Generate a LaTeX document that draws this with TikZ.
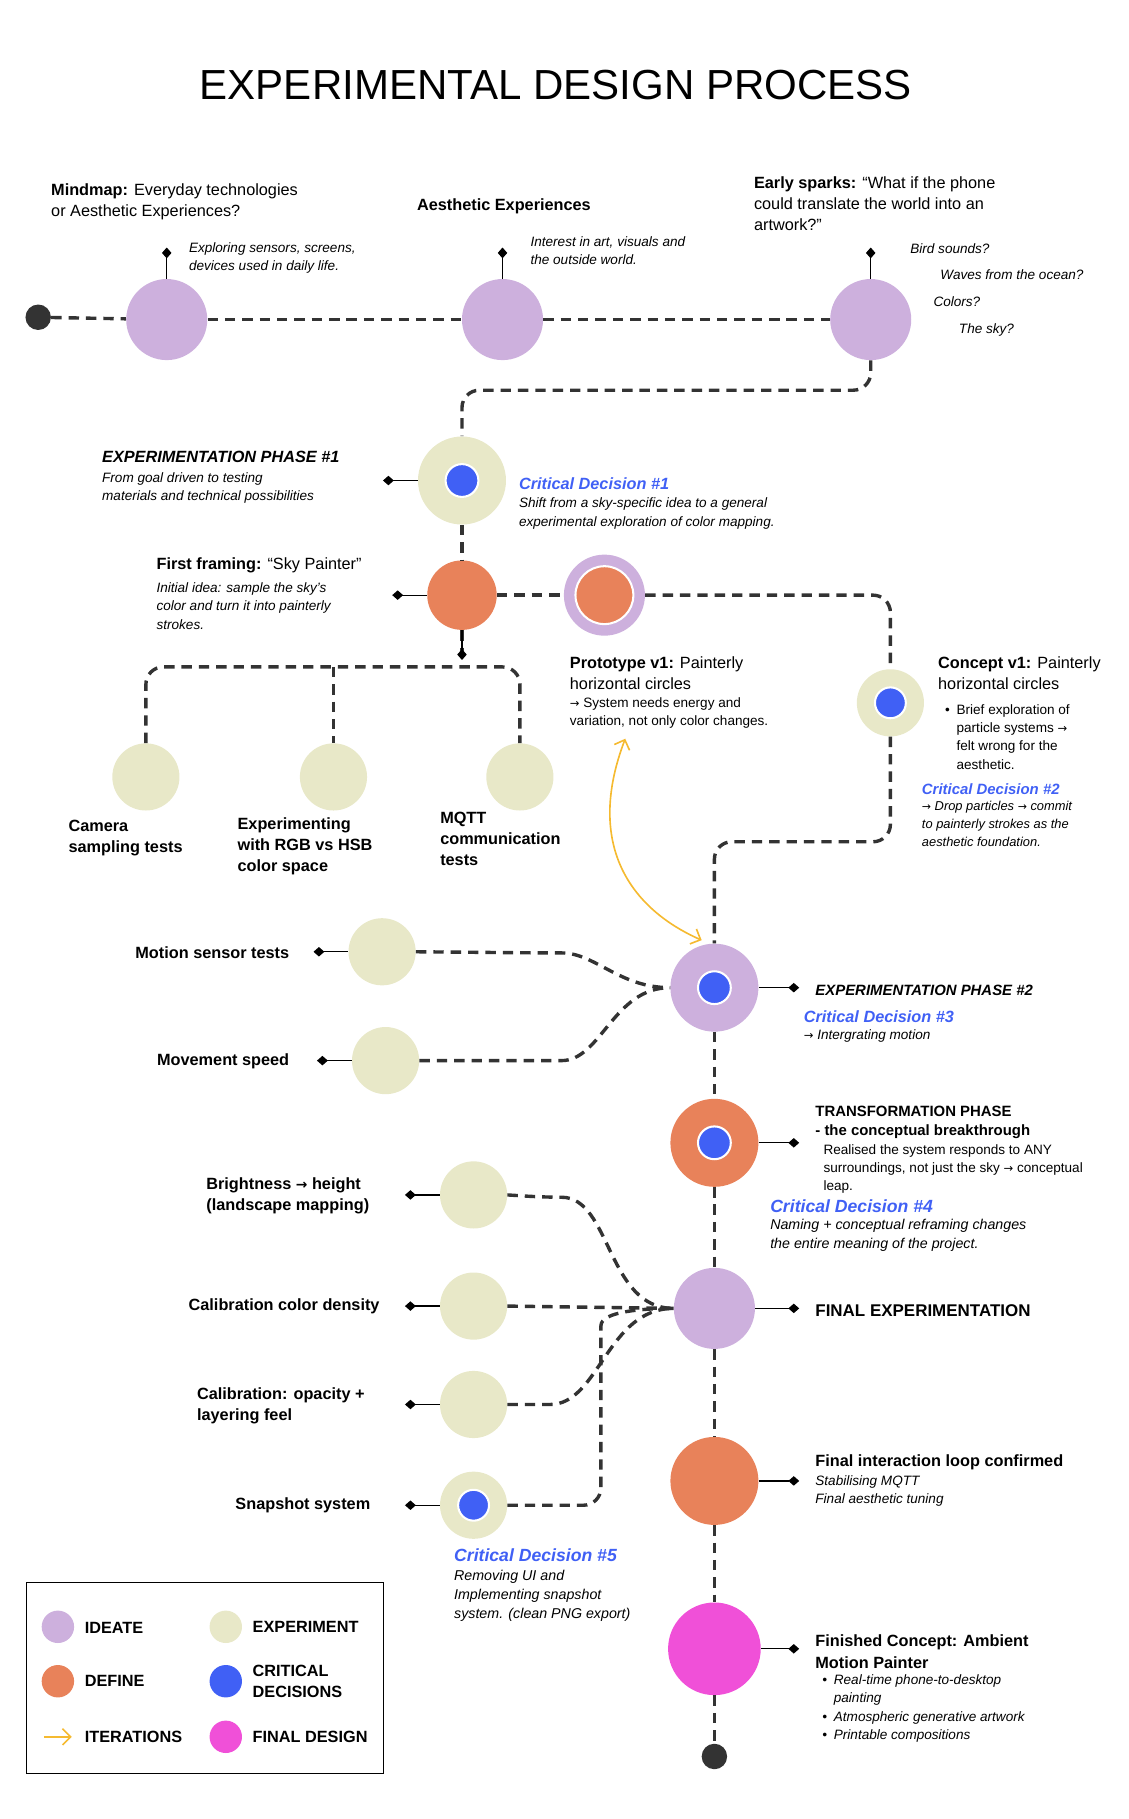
\documentclass[tikz,border=0pt]{standalone}
\usepackage{fontspec}
\setmainfont{Liberation Sans}
\newfontfamily\arrowfont[Scale=0.85]{DejaVu Sans}
\newcommand{\toarr}{{\arrowfont →}}
\usetikzlibrary{arrows.meta}
\definecolor{ideatec}{HTML}{CDB0DD}
\definecolor{definec}{HTML}{E8825A}
\definecolor{expc}{HTML}{E8E8C8}
\definecolor{critc}{HTML}{4060F5}
\definecolor{finalc}{HTML}{F050D8}
\definecolor{iterc}{HTML}{F5BA30}
\definecolor{flowc}{HTML}{333333}
\tikzset{
  dot/.style={circle, inner sep=0pt, draw=none},
  ideate/.style={dot, fill=ideatec, minimum size=2.1cm},
  define/.style={dot, fill=definec, minimum size=2.2cm},
  exper/.style={dot, fill=expc, minimum size=1.74cm},
  phase/.style={dot, fill=expc, minimum size=2.28cm},
  crit/.style={dot, fill=critc, draw=white, line width=1.5pt, minimum size=0.85cm},
  finaldes/.style={dot, fill=finalc, minimum size=2.4cm},
  endpt/.style={dot, fill=flowc, minimum size=0.66cm},
  flow/.style={draw=flowc, line width=2.5pt, dash pattern=on 0.27cm off 0.18cm, rounded corners=0.45cm},
  tag/.style={draw=black, line width=0.9pt, -{Diamond[length=8pt,width=7pt]}},
  lbl/.style={anchor=north west, align=left, inner sep=0pt, font=\fontsize{12}{15.5}\selectfont},
  bold/.style={lbl, font=\fontsize{12}{15.5}\selectfont\bfseries},
  note/.style={anchor=north west, align=left, inner sep=0pt, font=\fontsize{10}{13.6}\selectfont\itshape},
  small/.style={anchor=north west, align=left, inner sep=0pt, font=\fontsize{10}{13.6}\selectfont},
  decis/.style={anchor=north west, inner sep=0pt, text=critc, font=\fontsize{12}{15}\selectfont\bfseries\itshape},
  leg/.style={anchor=west, align=left, inner sep=0pt, font=\fontsize{12}{15}\selectfont\bfseries}
}
\begin{document}
\begin{tikzpicture}[x=0.03cm, y=-0.03cm]
\useasboundingbox (0,0) rectangle (975,1571);
\node[font=\fontsize{31}{36}\selectfont] (title) at (480,73) {EXPERIMENTAL DESIGN PROCESS};

% top timeline
\node[endpt] (start) at (33,274) {};
\node[ideate] (mind) at (144,276) {};
\node[ideate] (aest) at (434,276) {};
\node[ideate] (spark) at (752,276) {};
\draw[flow] (start) -- (mind);
\draw[flow] (mind) -- (aest);
\draw[flow] (aest) -- (spark);
\draw[tag] (mind.north) -- ++(0,-27);
\draw[tag] (aest.north) -- ++(0,-27);
\draw[tag] (spark.north) -- ++(0,-27);
\node[lbl] (t-mind) at (44,158) {\textbf{Mindmap:} Everyday technologies\\or Aesthetic Experiences?};
\node[note] (n-mind) at (163,209) {Exploring sensors, screens,\\devices used in daily life.};
\node[bold] (t-aest) at (360,171) {Aesthetic Experiences};
\node[note] (n-aest) at (458,204) {Interest in art, visuals and\\the outside world.};
\node[lbl] (t-spark) at (651,152) {\textbf{Early sparks:} “What if the phone\\could translate the world into an\\artwork?”};
\node[note] at (786,210) {Bird sounds?};
\node[note] at (812,233) {Waves from the ocean?};
\node[note] at (806,256) {Colors?};
\node[note] at (828,279) {The sky?};

% experimentation phase 1
\node[phase] (ph1) at (399,415) {};
\node[crit] at (ph1) {};
\draw[flow] (spark.south) -- (752,337) -- (399,337) -- (ph1.north);
\draw[tag] (ph1.west) -- ++(-30,0);
\node[bold, font=\fontsize{12}{15.5}\selectfont\bfseries\itshape] at (88,389) {EXPERIMENTATION PHASE \#1};
\node[note] at (88,408) {From goal driven to testing\\materials and technical possibilities};
\node[decis] at (448,412) {Critical Decision \#1};
\node[note] at (448,430) {Shift from a sky-specific idea to a general\\experimental exploration of color mapping.};

% first framing
\node[define, minimum size=1.8cm] (frame) at (399,514) {};
\draw[flow] (ph1.south) -- (frame.north);
\draw[tag] (frame.west) -- ++(-30,0);
\node[lbl] at (135,481) {\textbf{First framing:} “Sky Painter”};
\node[note] at (135,503) {Initial idea: sample the sky’s\\color and turn it into painterly\\strokes.};
\node[ideate] (proto) at (522,514) {};
\node[define, minimum size=1.5cm, draw=white, line width=1.5pt] at (proto) {};
\draw[flow] (frame.east) -- (proto.west);
\node[lbl] at (492,567) {\textbf{Prototype v1:} Painterly\\horizontal circles};
\node[small] at (492,602) {\toarr{} System needs energy and\\variation, not only color changes.};

% concept v1
\node[exper] (conc) at (769,607) {};
\node[crit, minimum size=0.8cm] at (conc) {};
\draw[flow] (proto.east) -- (769,514) -- (conc.north);
\node[lbl] at (810,567) {\textbf{Concept v1:} Painterly\\horizontal circles};
\node[small] at (816,608) {•\enspace Brief exploration of\\\phantom{•}\enspace particle systems \toarr\\\phantom{•}\enspace felt wrong for the\\\phantom{•}\enspace aesthetic.};
\node[decis, font=\fontsize{11}{14}\selectfont\bfseries\itshape] at (796,677) {Critical Decision \#2};
\node[note, font=\fontsize{9.5}{13}\selectfont\itshape] at (796,692) {\toarr{} Drop particles \toarr{} commit\\to painterly strokes as the\\aesthetic foundation.};

% early experiments
\node[exper] (cam) at (126,671) {};
\node[exper] (rgb) at (288,671) {};
\node[exper] (mqtt) at (449,671) {};
\draw[flow] (frame.south) -- (399,576);
\draw[flow] (cam.north) -- (126,576) -- (449,576) -- (mqtt.north);
\draw[flow] (288,576) -- (rgb.north);
\draw[tag] (frame.south) -- (399,570);
\node[bold] at (59,708) {Camera\\sampling tests};
\node[bold] at (205,706) {Experimenting\\with RGB vs HSB\\color space};
\node[bold] at (380,701) {MQTT\\communication\\tests};

% experimentation phase 2
\node[ideate, minimum size=2.28cm] (ph2) at (617,853) {};
\node[crit] at (ph2) {};
\draw[flow] (conc.south) -- (769,727) -- (617,727) -- (ph2.north);
\draw[{Straight Barb[length=6pt]}-{Straight Barb[length=6pt]}, draw=iterc, line width=1.2pt]
  (540,638) .. controls (505,730) and (545,785) .. (606,812);
\draw[tag] (ph2.east) -- ++(35,0);
\node[bold, anchor=west, font=\fontsize{11}{14}\selectfont\bfseries\itshape] at (704,855) {EXPERIMENTATION PHASE \#2};
\node[decis] at (694,873) {Critical Decision \#3};
\node[note] at (694,889) {\toarr{} Intergrating motion};
\node[exper] (motion) at (330,822) {};
\node[exper] (speed) at (333,916) {};
\draw[flow] (motion.east) -- (470,823) to[out=0, in=180] (ph2.west);
\draw[flow] (speed.east) -- (470,916) to[out=0, in=180] (ph2.west);
\draw[tag] (motion.west) -- ++(-30,0);
\draw[tag] (speed.west) -- ++(-30,0);
\node[bold, anchor=east] at (250,823) {Motion sensor tests};
\node[bold, anchor=east] at (250,917) {Movement speed};

% transformation phase
\node[define, minimum size=2.28cm] (trans) at (617,987) {};
\node[crit] at (trans) {};
\draw[flow] (ph2.south) -- (trans.north);
\draw[tag] (trans.east) -- ++(35,0);
\node[bold, font=\fontsize{11}{14}\selectfont\bfseries] at (704,955) {TRANSFORMATION PHASE\\ - the conceptual breakthrough};
\node[small] at (711,988) {Realised the system responds to ANY\\surroundings, not just the sky \toarr{} conceptual\\leap.};
\node[decis, font=\fontsize{13}{15}\selectfont\bfseries\itshape] at (665,1036) {Critical Decision \#4};
\node[note, font=\fontsize{10.5}{14}\selectfont\itshape] at (665,1053) {Naming + conceptual reframing changes\\the entire meaning of the project.};

% final experimentation
\node[ideate] (finex) at (617,1130) {};
\draw[flow] (trans.south) -- (finex.north);
\draw[tag] (finex.east) -- ++(38,0);
\node[bold, anchor=west, font=\fontsize{12.5}{15}\selectfont\bfseries] at (704,1132) {FINAL EXPERIMENTATION};
\node[exper] (bright) at (409,1032) {};
\node[exper] (calib) at (409,1128) {};
\node[exper] (opac) at (409,1213) {};
\node[exper] (snap) at (409,1300) {};
\node[crit, minimum size=0.8cm] at (snap) {};
\draw[flow] (bright.east) -- (470,1034) to[out=0, in=180] (finex.west);
\draw[flow] (calib.east) -- (finex.west);
\draw[flow] (opac.east) -- (460,1213) to[out=0, in=180] (finex.west);
\draw[flow] (snap.east) -- (519,1300) -- (519,1160) to[out=90, in=180] (finex.west);
\foreach \n in {bright, calib, opac, snap} \draw[tag] (\n.west) -- ++(-30,0);
\node[bold] at (178,1017) {Brightness \toarr{} height\\(landscape mapping)};
\node[bold, anchor=east] at (328,1128) {Calibration color density};
\node[bold] at (170,1198) {Calibration: opacity +\\layering feel};
\node[bold, anchor=east] at (320,1300) {Snapshot system};
\node[decis, font=\fontsize{13}{15}\selectfont\bfseries\itshape] at (392,1337) {Critical Decision \#5};
\node[note, font=\fontsize{10.5}{14}\selectfont\itshape] at (392,1356) {Removing UI and\\Implementing snapshot\\system. (clean PNG export)};

% final stage
\node[define, minimum size=2.28cm] (loop) at (617,1279) {};
\node[finaldes] (done) at (617,1424) {};
\node[endpt] (stop) at (617,1517) {};
\draw[flow] (finex.south) -- (loop.north);
\draw[flow] (loop.south) -- (done.north);
\draw[flow] (done.south) -- (stop.north);
\draw[tag] (loop.east) -- ++(35,0);
\draw[tag] (done.east) -- ++(33,0);
\node[bold] at (704,1256) {Final interaction loop confirmed};
\node[note] at (704,1274) {Stabilising MQTT\\Final aesthetic tuning};
\node[bold] at (704,1412) {Finished Concept: Ambient\\Motion Painter};
\node[note] at (710,1446) {•\enspace Real-time phone-to-desktop\\\phantom{•}\enspace painting\\•\enspace Atmospheric generative artwork\\•\enspace Printable compositions};

% legend
\draw[black, line width=0.8pt] (23,1367) rectangle (331,1532);
\node[ideate, minimum size=0.84cm] (l-ide) at (50,1405) {};
\node[define, minimum size=0.84cm] (l-def) at (50,1452) {};
\node[exper, minimum size=0.84cm] (l-exp) at (195,1405) {};
\node[dot, fill=critc, minimum size=0.84cm] (l-crit) at (195,1452) {};
\node[finaldes, minimum size=0.84cm] (l-fin) at (195,1500) {};
\coordinate (l-a) at (38,1500);
\coordinate (l-b) at (62,1500);
\draw[draw=iterc, line width=1.2pt, -{Straight Barb[length=6pt]}] (l-a) -- (l-b);
\node[leg] at (73,1406) {IDEATE};
\node[leg] at (73,1452) {DEFINE};
\node[leg] at (73,1500) {ITERATIONS};
\node[leg] at (218,1405) {EXPERIMENT};
\node[leg] at (218,1452) {CRITICAL\\DECISIONS};
\node[leg] at (218,1500) {FINAL DESIGN};
\end{tikzpicture}
\end{document}
